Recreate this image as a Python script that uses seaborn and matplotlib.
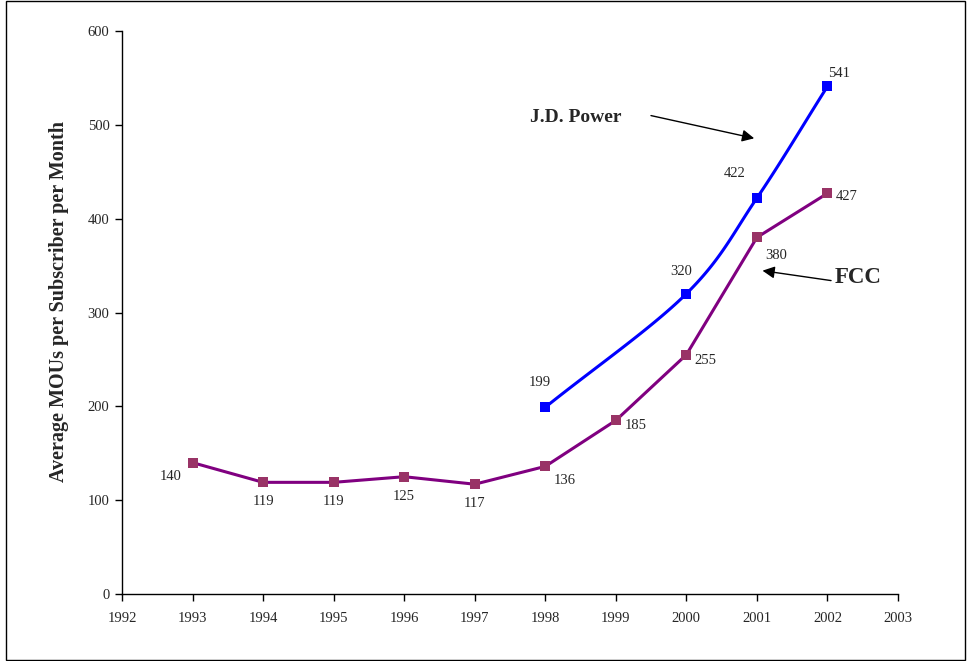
import numpy as np
import pandas as pd
import matplotlib
matplotlib.use("Agg")
import matplotlib.pyplot as plt
import seaborn as sns
from matplotlib.patches import Rectangle

sns.set_theme(style="white")
plt.rcParams['font.family'] = ['Liberation Serif', 'DejaVu Serif']

fcc_years = [1993, 1994, 1995, 1996, 1997, 1998, 1999, 2000, 2001, 2002]
fcc_values = [140, 119, 119, 125, 117, 136, 185, 255, 380, 427]
jdp_years = [1998, 2000, 2001, 2002]
jdp_values = [199, 320, 422, 541]

x_ticks = list(range(1992, 2004))
y_ticks = [0, 100, 200, 300, 400, 500, 600]

fig = plt.figure(figsize=(9.67, 6.61), dpi=100)
ax = fig.add_axes([122/967, 1-594/661, (898-122)/967, (594-31)/661])

# figure border
fig.patches.append(Rectangle((6/967, 0.002), 959/967, 0.996, transform=fig.transFigure,
                             fill=False, edgecolor='black', linewidth=1.0))

# Smoothed J.D. Power line (Bezier rendering through the data points)
def smooth(xs, ys, n=40):
    xs = np.asarray(xs, float); ys = np.asarray(ys, float)
    px = np.concatenate([[2*xs[0]-xs[1]], xs, [2*xs[-1]-xs[-2]]])
    py = np.concatenate([[2*ys[0]-ys[1]], ys, [2*ys[-1]-ys[-2]]])
    ox, oy = [], []
    for i in range(1, len(px)-2):
        p0 = np.array([px[i], py[i]]); p1 = np.array([px[i+1], py[i+1]])
        pm = np.array([px[i-1], py[i-1]]); pp = np.array([px[i+2], py[i+2]])
        c1 = p0 + (p1 - pm) / 6.0
        c2 = p1 - (pp - p0) / 6.0
        t = np.linspace(0, 1, n)[:, None]
        pts = (1-t)**3*p0 + 3*(1-t)**2*t*c1 + 3*(1-t)*t**2*c2 + t**3*p1
        ox.extend(pts[:, 0]); oy.extend(pts[:, 1])
    return np.array(ox), np.array(oy)

sx, sy = smooth(jdp_years, jdp_values)
ax.plot(sx, sy, color='#0000FF', linewidth=2.2, zorder=2)
sns.scatterplot(x=jdp_years, y=jdp_values, marker='s', s=52, color='#0000FF',
                edgecolor='none', ax=ax, zorder=3)

fcc_df = pd.DataFrame({'year': fcc_years, 'value': fcc_values})
sns.lineplot(data=fcc_df, x='year', y='value', color='#800080', linewidth=2.2, ax=ax, zorder=2)
sns.scatterplot(data=fcc_df, x='year', y='value', marker='s', s=52, color='#993366',
                edgecolor='none', ax=ax, zorder=3)

# data labels (offsets in points)
fcc_off = [(-16, -10), (0, -14), (0, -14), (0, -14), (0, -14), (14, -10),
           (14, -4), (14, -4), (14, -13), (14, -2)]
for x, y, (dx, dy) in zip(fcc_years, fcc_values, fcc_off):
    ax.annotate(str(y), (x, y), xytext=(dx, dy), textcoords='offset points',
                ha='center', va='center', fontsize=10.5)
jdp_off = [(-4, 18), (-4, 16), (-16, 18), (8, 9)]
for x, y, (dx, dy) in zip(jdp_years, jdp_values, jdp_off):
    ax.annotate(str(y), (x, y), xytext=(dx, dy), textcoords='offset points',
                ha='center', va='center', fontsize=10.5)

# series callouts
ax.text(1997.78, 508, 'J.D. Power', fontsize=14, fontweight='bold', ha='left', va='center')
ax.annotate('', xy=(2001.0, 485), xytext=(1999.46, 510.5),
            arrowprops=dict(arrowstyle='-|>', color='black', lw=1.0, mutation_scale=18))
ax.text(2002.1, 337, 'FCC', fontsize=16.5, fontweight='bold', ha='left', va='center')
ax.annotate('', xy=(2001.04, 345), xytext=(2002.09, 333.6),
            arrowprops=dict(arrowstyle='-|>', color='black', lw=1.0, mutation_scale=18))

ax.set_xlim(1992, 2003)
ax.set_ylim(0, 600)
ax.set_xticks(x_ticks)
ax.set_xticklabels([str(t) for t in x_ticks])
ax.set_yticks(y_ticks)
ax.set_yticklabels([str(t) for t in y_ticks])
ax.tick_params(axis='both', direction='out', length=5, width=1, color='black',
               labelsize=10.5, bottom=True, left=True, pad=8)
ax.tick_params(axis='y', pad=4)
ax.set_xlabel('')
ax.set_ylabel('Average MOUs per Subscriber per Month', fontsize=14.5, fontweight='bold')
ax.yaxis.set_label_coords(-0.068, 0.52)
for side in ['top', 'right']:
    ax.spines[side].set_visible(False)
for side in ['left', 'bottom']:
    ax.spines[side].set_color('black')
    ax.spines[side].set_linewidth(1.0)
ax.grid(False)

fig.savefig('out.png', dpi=100)
